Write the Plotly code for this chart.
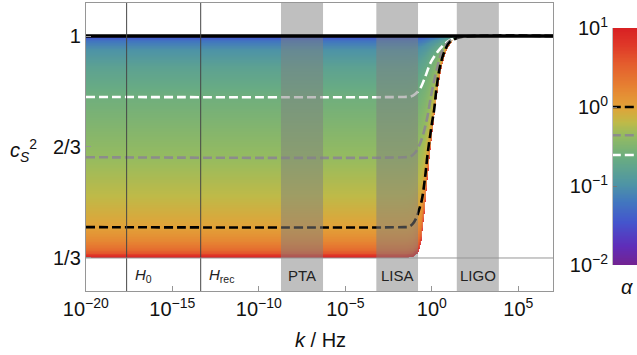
import numpy as np
import plotly.graph_objects as go

# ---------------- data ----------------
# y axis (sound speed squared)
ytick_vals = [1/3, 2/3, 1.0]
ytick_text = ["1/3", "2/3", "1"]

# x axis: log10(k / Hz)
xtick_logk = [-20, -15, -10, -5, 0, 5]
xtick_text = ["10<sup>−20</sup>", "10<sup>−15</sup>", "10<sup>−10</sup>",
              "10<sup>−5</sup>", "10<sup>0</sup>", "10<sup>5</sup>"]

# reference scales (vertical lines)
scale_names = ["<i>H</i><sub>0</sub>", "<i>H</i><sub>rec</sub>"]
scale_logk = [-17.64, -13.36]

# detector bands (log10 k)
band_names = ["PTA", "LISA", "LIGO"]
band_lo = [-8.72, -3.21, 1.44]
band_hi = [-6.29, -0.80, 3.87]

# dashed curves c_s^2(k) for alpha = 1, ~0.44, ~0.25
black_logk = [-20, -1.6, -1.36, -1.12, -0.87, -0.73, -0.58, -0.39, -0.24, -0.01, 0.13, 0.28, 0.47, 0.76, 1.05, 1.44, 1.92, 7]
black_cs2 = [0.426, 0.426, 0.427, 0.435, 0.457, 0.480, 0.508, 0.577, 0.648, 0.733, 0.778, 0.848, 0.908, 0.958, 0.983, 0.993, 0.9985, 1.0]

grey_logk = [-20, -1.6, -1.25, -0.96, -0.67, -0.48, -0.25, -0.05, 0.14, 0.33, 0.62, 1.0, 1.4, 1.9, 7]
grey_cs2 = [0.636, 0.636, 0.638, 0.650, 0.679, 0.709, 0.760, 0.820, 0.868, 0.910, 0.958, 0.984, 0.994, 0.9985, 1.0]

white_logk = [-20, -1.6, -1.25, -0.96, -0.67, -0.38, -0.09, 0.20, 0.49, 0.78, 1.07, 1.45, 1.9, 7]
white_cs2 = [0.817, 0.817, 0.818, 0.826, 0.843, 0.878, 0.918, 0.943, 0.963, 0.978, 0.988, 0.995, 0.999, 1.0]

# lower edge of the coloured region (large alpha)
edge_logk = [-20, -1.5, -1.1, -0.8, -0.62, -0.45, -0.3, -0.15, 0.05, 0.2, 0.4, 0.6, 0.85, 1.2, 1.6, 2.0, 7]
edge_cs2 = [1/3, 1/3, 0.336, 0.348, 0.380, 0.460, 0.545, 0.630, 0.720, 0.790, 0.860, 0.915, 0.958, 0.985, 0.995, 0.999, 1.0]

# colour bar: alpha marks of the dashed curves (log10 alpha)
mark_logalpha = [0.0, -0.357, -0.608]
mark_colors = ["black", "rgb(140,140,140)", "white"]

# low-k plateau of c_s^2 for each alpha
alpha_log_levels = [-2.0, -1.7, -1.4, -1.2, -1.0, -0.8, -0.608, -0.357, -0.2, 0.0, 0.2, 0.4, 0.6, 1.0]
plateau_cs2 = [0.9995, 0.998, 0.993, 0.983, 0.959, 0.906, 0.817, 0.636, 0.52, 0.426, 0.385, 0.360, 0.347, 0.336]

cbar_logalpha = [-2, -1, 0, 1]
cbar_text = ["10<sup>−2</sup>", "10<sup>−1</sup>", "10<sup>0</sup>", "10<sup>1</sup>"]

# rainbow colour map (position along colour bar, colour)
rainbow = [
    [0.00, "rgb(115,35,145)"],
    [0.08, "rgb(95,45,185)"],
    [0.18, "rgb(68,85,205)"],
    [0.27, "rgb(66,120,190)"],
    [0.34, "rgb(78,148,165)"],
    [0.45, "rgb(105,172,130)"],
    [0.55, "rgb(150,187,95)"],
    [0.60, "rgb(190,186,72)"],
    [0.667, "rgb(226,162,56)"],
    [0.75, "rgb(230,130,50)"],
    [0.85, "rgb(228,92,45)"],
    [0.93, "rgb(223,55,40)"],
    [1.00, "rgb(216,32,35)"],
]

# ---------------- build the gradient ----------------
lk = np.concatenate([np.linspace(-20, -2.05, 40), np.arange(-2.0, 2.6, 0.01), np.linspace(2.65, 7, 20)])
nrows = 300
h = (1 - 1/3) / nrows
v = 1/3 + (np.arange(nrows) + 0.5) * h
cr = np.interp(lk, edge_logk, edge_cs2)
cb = np.interp(lk, black_logk, black_cs2)
cg = np.interp(lk, grey_logk, grey_cs2)
cw = np.interp(lk, white_logk, white_cs2)
p_levels = [1/3, black_cs2[0], grey_cs2[0], white_cs2[0], 1.0]
Z = np.full((nrows, len(lk)), np.nan)
pc_rev = np.array(plateau_cs2[::-1])
al_rev = np.array(alpha_log_levels[::-1])
for j in range(len(lk)):
    xs = np.maximum.accumulate(np.array([cr[j], cb[j], cg[j], cw[j], 1.0])) + np.arange(5) * 1e-9
    mask = v >= xs[0]
    if not mask.any():
        continue
    p = np.interp(v[mask], xs, p_levels)
    Z[mask, j] = np.interp(p, pc_rev, al_rev)

YMIN, YMAX = 0.2342, 1.0991
W, H = 637, 355

fig = go.Figure()
fig.add_trace(go.Heatmap(x=lk, y=v, z=Z, colorscale=rainbow, zmin=-2, zmax=1,
                         showscale=False, hoverinfo="skip"))

dash = "9px,4px"
for lx, ly, col in [(white_logk, white_cs2, "white"), (grey_logk, grey_cs2, "rgb(140,140,140)"),
                    (black_logk, black_cs2, "black")]:
    fig.add_trace(go.Scatter(x=lx, y=ly, mode="lines", line=dict(color=col, width=2.6, dash=dash),
                             line_shape="spline", hoverinfo="skip", showlegend=False))

# detector bands
for lo, hi in zip(band_lo, band_hi):
    fig.add_trace(go.Scatter(x=[lo, hi, hi, lo, lo], y=[YMIN, YMIN, YMAX, YMAX, YMIN], mode="lines",
                             fill="toself", fillcolor="rgba(128,128,128,0.5)", line=dict(width=0),
                             hoverinfo="skip", showlegend=False))

# c_s^2 = 1 line
fig.add_trace(go.Scatter(x=[-20, 7], y=[1, 1], mode="lines", line=dict(color="black", width=3.5),
                         hoverinfo="skip", showlegend=False))

# scale lines
for sx in scale_logk:
    fig.add_trace(go.Scatter(x=[sx, sx], y=[YMIN, YMAX], mode="lines",
                             line=dict(color="rgb(70,70,70)", width=1),
                             hoverinfo="skip", showlegend=False))

# 1/3 separator line
fig.add_trace(go.Scatter(x=[-20, 7], y=[1/3, 1/3], mode="lines",
                         line=dict(color="rgb(150,150,150)", width=1),
                         hoverinfo="skip", showlegend=False))

# colour bar
cb_y = np.linspace(-2, 1, 301)
fig.add_trace(go.Heatmap(x=[0.5], y=cb_y, z=[[t] for t in cb_y], colorscale=rainbow, zmin=-2, zmax=1,
                         showscale=False, xaxis="x2", yaxis="y2", hoverinfo="skip"))
for la, col in zip(mark_logalpha, mark_colors):
    fig.add_trace(go.Scatter(x=[-0.05, 1.0], y=[la, la], mode="lines", xaxis="x2", yaxis="y2",
                             line=dict(color=col, width=2.6, dash=dash),
                             hoverinfo="skip", showlegend=False, cliponaxis=False))

annotations = []
label_y = 0.282
for name, sx in zip(scale_names, scale_logk):
    annotations.append(dict(x=sx, y=label_y, xref="x", yref="y", text=name, showarrow=False,
                            xanchor="left", yanchor="middle", xshift=6, font=dict(size=15, color="#222")))
for name, lo, hi in zip(band_names, band_lo, band_hi):
    annotations.append(dict(x=(lo + hi) / 2, y=label_y, xref="x", yref="y", text=name, showarrow=False,
                            xanchor="center", yanchor="middle", font=dict(size=15, color="#222")))
annotations.append(dict(x=320/W, y=1-340/H, xref="paper", yref="paper", text="<i>k</i> / Hz",
                        xanchor="center", yanchor="middle",
                        showarrow=False, font=dict(size=20, color="#111")))
annotations.append(dict(x=24/W, y=1-150/H, xref="paper", yref="paper",
                        text="<i>c<sub>S</sub></i><sup>2</sup>", xanchor="center", yanchor="middle",
                        showarrow=False, font=dict(size=20, color="#111")))
annotations.append(dict(x=627/W, y=1-287/H, xref="paper", yref="paper", text="<i>α</i>",
                        xanchor="center", yanchor="middle",
                        showarrow=False, font=dict(size=20, color="#111")))

fig.update_layout(
    width=W, height=H,
    margin=dict(l=0, r=0, t=0, b=0, autoexpand=False),
    paper_bgcolor="white", plot_bgcolor="white",
    font=dict(family="Liberation Sans, Arial, sans-serif", size=20, color="#111"),
    showlegend=False,
    xaxis=dict(domain=[85.8/W, 553/W], range=[-20, 7], tickvals=xtick_logk, ticktext=xtick_text,
               ticks="inside", ticklen=5, tickcolor="rgb(150,150,150)", showgrid=False, zeroline=False,
               showline=True, linecolor="rgb(150,150,150)", linewidth=1, mirror=True,
               tickfont=dict(size=20), automargin=False),
    yaxis=dict(domain=[1-291/H, 1-3/H], range=[YMIN, YMAX], tickvals=ytick_vals, ticktext=ytick_text,
               ticks="inside", ticklen=5, tickcolor="rgb(150,150,150)", showgrid=False, zeroline=False,
               showline=True, linecolor="rgb(150,150,150)", linewidth=1, mirror=True,
               tickfont=dict(size=20), automargin=False),
    xaxis2=dict(domain=[613/W, 1.0], range=[0, 1], showticklabels=False, showgrid=False,
                zeroline=False, anchor="y2", fixedrange=True, automargin=False),
    yaxis2=dict(domain=[1-265/H, 1-28/H], range=[-2, 1], tickvals=cbar_logalpha, ticktext=cbar_text,
                ticks="inside", ticklen=4, tickcolor="rgb(120,120,120)", showgrid=False, zeroline=False,
                anchor="x2", side="left", tickfont=dict(size=20), showline=True,
                linecolor="rgb(190,190,190)", linewidth=1, automargin=False),
    annotations=annotations,
)

fig.write_html("out.html", config={"displayModeBar": False},
               post_script="document.body.style.margin='0';document.body.style.overflow='hidden';")
